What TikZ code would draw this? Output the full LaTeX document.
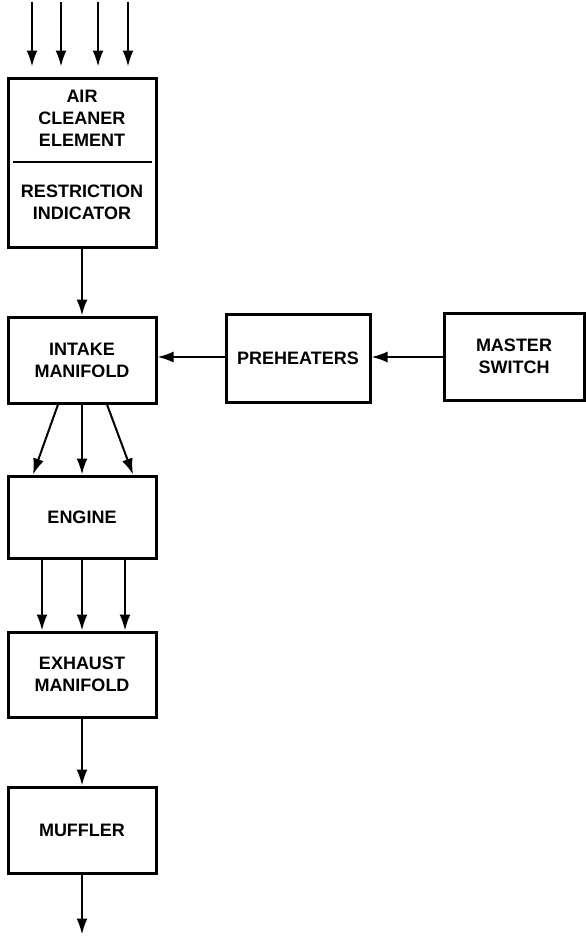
\documentclass[tikz,border=0pt]{standalone}
\usepackage{fontspec}
\setmainfont{Liberation Sans}
\usetikzlibrary{arrows.meta}

\begin{document}
\begin{tikzpicture}[x = 1pt, y = 1pt,
    every node/.style = {font = \bfseries\fontsize{18}{22}\selectfont, align = center, inner sep = 0pt},
    box/.style = {draw, line width = 3pt, minimum width = 148pt},
    flow/.style = {line width = 2pt, -{Latex[length = 16pt, width = 11pt]}}]
        \useasboundingbox (0,0) rectangle (586,-943);
        % left column
        \node[box, minimum height = 169pt] (air) at (82,-162.5) {};
        \node (airtext) at (82,-118) {AIR\\CLEANER\\ELEMENT};
        \node (indtext) at (82,-202) {RESTRICTION\\INDICATOR};
        \draw[line width = 2pt] ([xshift = 6pt, yshift = -85pt]air.north west)
            -- ([xshift = -6pt, yshift = -85pt]air.north east);
        \node[box, minimum height = 86pt] (intake) at (82,-360) {INTAKE\\MANIFOLD};
        \node[box, minimum height = 82pt] (engine) at (82,-517) {ENGINE};
        \node[box, minimum height = 85pt] (exhaust) at (82,-674.5) {EXHAUST\\MANIFOLD};
        \node[box, minimum height = 86pt] (muffler) at (82,-830) {MUFFLER};
        % right branch
        \node[box, minimum width = 144pt, minimum height = 88pt] (preheat) at (298,-358) {PREHEATERS};
        \node[box, minimum width = 140pt, minimum height = 87pt] (master) at (514,-356.5) {MASTER\\SWITCH};
        % air in
        \foreach \dx [count = \i] in {-50,-21,16,46} {
            \coordinate (in\i) at ([xshift = \dx pt, yshift = 75pt]air.north);
            \coordinate (tip\i) at ([xshift = \dx pt, yshift = 10pt]air.north);
            \draw[flow] (in\i) -- (tip\i);
        }
        \draw[flow] (air) -- (intake);
        \draw[flow] ([xshift = -24pt]intake.south) -- ([xshift = -49pt]engine.north);
        \draw[flow] (intake) -- (engine);
        \draw[flow] ([xshift = 25pt]intake.south) -- ([xshift = 51pt]engine.north);
        \foreach \dx in {-40,0,43}
            \draw[flow] ([xshift = \dx pt]engine.south) -- ([xshift = \dx pt]exhaust.north);
        \draw[flow] (exhaust) -- (muffler);
        \coordinate (out) at ([yshift = -60pt]muffler.south);
        \draw[flow] (muffler) -- (out);
        \draw[flow] (master.west |- 0,-357) -- (preheat.east |- 0,-357);
        \draw[flow] (preheat.west |- 0,-357) -- (intake.east |- 0,-357);
\end{tikzpicture}
\end{document}
